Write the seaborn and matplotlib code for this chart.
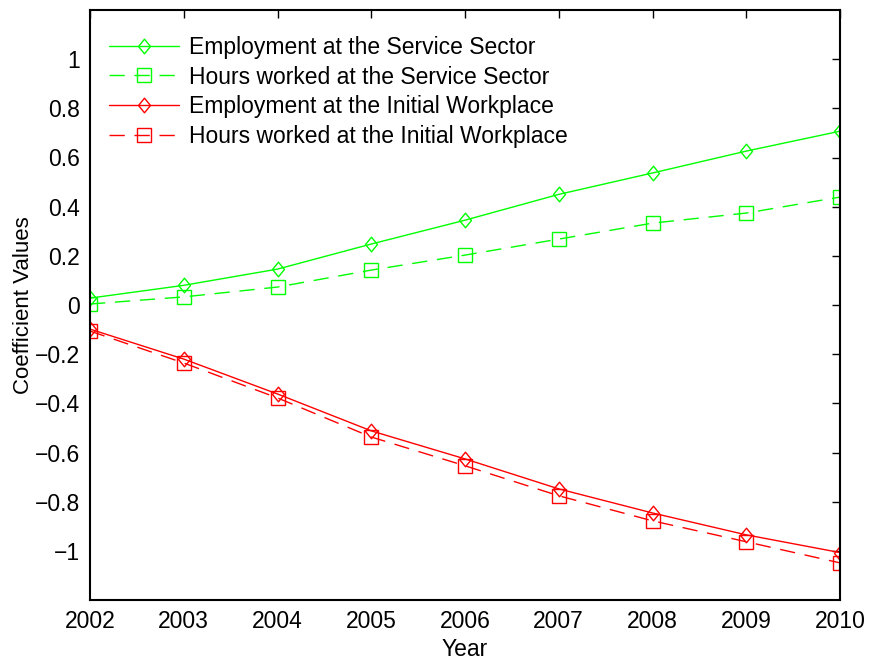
import matplotlib
matplotlib.use("Agg")
import matplotlib.pyplot as plt
from matplotlib.path import Path
import seaborn as sns
import pandas as pd

years = [2002, 2003, 2004, 2005, 2006, 2007, 2008, 2009, 2010]
emp_service = [0.028, 0.080, 0.146, 0.248, 0.345, 0.450, 0.537, 0.626, 0.707]
hours_service = [0.004, 0.033, 0.073, 0.142, 0.203, 0.268, 0.333, 0.374, 0.439]
emp_initial = [-0.098, -0.220, -0.362, -0.512, -0.626, -0.748, -0.846, -0.935, -1.007]
hours_initial = [-0.106, -0.236, -0.378, -0.537, -0.654, -0.776, -0.878, -0.963, -1.049]

labels = ["Employment at the Service Sector",
          "Hours worked at the Service Sector",
          "Employment at the Initial Workplace",
          "Hours worked at the Initial Workplace"]
series = [emp_service, hours_service, emp_initial, hours_initial]
colors = ["#00ff00", "#00ff00", "#ff0000", "#ff0000"]

diamond = Path([(0, 1), (0.82, 0), (0, -1), (-0.82, 0), (0, 1)],
               [Path.MOVETO, Path.LINETO, Path.LINETO, Path.LINETO, Path.CLOSEPOLY])
markers = [diamond, "s", diamond, "s"]
msizes = [10.5, 9.8, 10.5, 9.8]
styles = ["-", (0, (11, 7)), "-", (0, (11, 7))]

sns.set_style("white")
plt.rcParams['font.family'] = ['Liberation Sans', 'DejaVu Sans']
plt.rcParams['text.color'] = 'black'
plt.rcParams['axes.labelcolor'] = 'black'

fig = plt.figure(figsize=(8.7, 6.61), dpi=100)
ax = fig.add_axes([90/870, 61/661, 750/870, 590/661])

for lab, vals, c, m, ms, ls in zip(labels, series, colors, markers, msizes, styles):
    df = pd.DataFrame({"Year": years, "Value": vals})
    sns.lineplot(data=df, x="Year", y="Value", ax=ax, color=c, linewidth=1.0,
                 linestyle=ls, marker=m, markersize=ms, markerfacecolor="none",
                 markeredgecolor=c, markeredgewidth=1.0, label=lab)

ax.set_xlim(2002, 2010)
ax.set_ylim(-1.2, 1.2)
ax.set_xticks(years)
ax.set_xticklabels([str(y) for y in years])
yt = [-1, -0.8, -0.6, -0.4, -0.2, 0, 0.2, 0.4, 0.6, 0.8, 1]
ax.set_yticks(yt)
ax.set_yticklabels([("\u22121" if v == -1 else ("1" if v == 1 else ("0" if v == 0 else f"{v:.1f}".replace("-", "\u2212")))) for v in yt])
ax.tick_params(direction="in", length=6, width=1, top=True, right=True,
               labelsize=16.5, colors="black", pad=7)
for s in ax.spines.values():
    s.set_visible(True)
    s.set_color("black")
    s.set_linewidth(1.5)
ax.set_xlabel("Year", fontsize=16.5, labelpad=4)
ax.set_ylabel("Coefficient Values", fontsize=16, labelpad=1)

leg = ax.legend(loc="upper left", bbox_to_anchor=(-2/750, 1 - 5/590), frameon=False,
                fontsize=16.5, handlelength=3.05, labelspacing=0.3,
                borderaxespad=0.5, handletextpad=0.45)
for t in leg.get_texts():
    t.set_color("black")

fig.savefig("out.png", dpi=100)
